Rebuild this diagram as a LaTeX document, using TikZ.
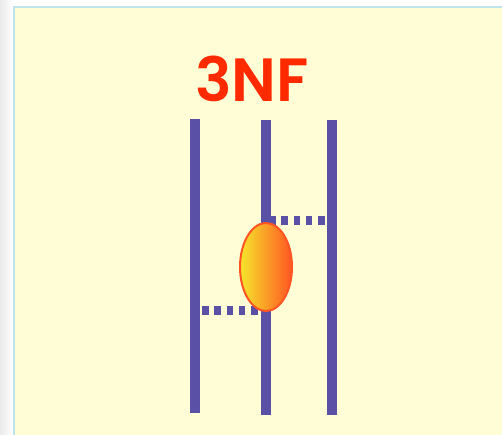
\documentclass[tikz,border=0pt]{standalone}
\usepackage{fontspec}
\newfontfamily\titlefont{Poppins}[UprightFont={* SemiBold}]
\usetikzlibrary{shapes.geometric}
\definecolor{bgyellow}{HTML}{FFFDD6}
\definecolor{frameblue}{HTML}{BFE5EA}
\definecolor{strand}{HTML}{5A50A6}
\definecolor{titlered}{HTML}{FF2A00}
\definecolor{blobyellow}{HTML}{F6E62C}
\definecolor{bloborange}{HTML}{FF9A14}
\definecolor{blobred}{HTML}{FF5522}
\tikzset{
  strandline/.style={draw=strand, line width=10pt},
  dotlink/.style={draw=strand, line width=9pt, dash pattern=on 6.5pt off 5.8pt},
  blob/.style={ellipse, minimum width=52pt, minimum height=88pt, inner sep=0pt,
    draw=blobred, line width=2pt, left color=blobyellow, middle color=bloborange, right color=blobred},
}
\begin{document}
\begin{tikzpicture}[x=1pt,y=-1pt]
\useasboundingbox (0,0) rectangle (502,435);
% page edge shading
\shade[left color=black!8, right color=white] (0,0) rectangle (13,435);
\fill[white] (13,0) rectangle (502,6);
\fill[frameblue] (13,6) rectangle (502,435);
\fill[bgyellow] (15,8) rectangle (502,435);
% title
\node[text=titlered, font=\titlefont\fontsize{61}{61}\selectfont] (title) at (252,79) {3NF};
% strands
\coordinate (lt) at (195,119); \coordinate (lb) at (195,413);
\coordinate (mt) at (266,120); \coordinate (mb) at (266,415);
\coordinate (rt) at (332,120); \coordinate (rb) at (332,415);
\draw[strandline] (lt) -- (lb);
\draw[strandline] (mt) -- (mb);
\draw[strandline] (rt) -- (rb);
% dotted links
\coordinate (ua) at (269,221); \coordinate (ub) at (327,221);
\coordinate (la) at (202,310); \coordinate (lb2) at (259,310);
\draw[dotlink] (ua) -- (ub);
\draw[dotlink] (la) -- (lb2);
% three-nucleon force blob
\node[blob] (nf) at (266,267) {};
\end{tikzpicture}
\end{document}
